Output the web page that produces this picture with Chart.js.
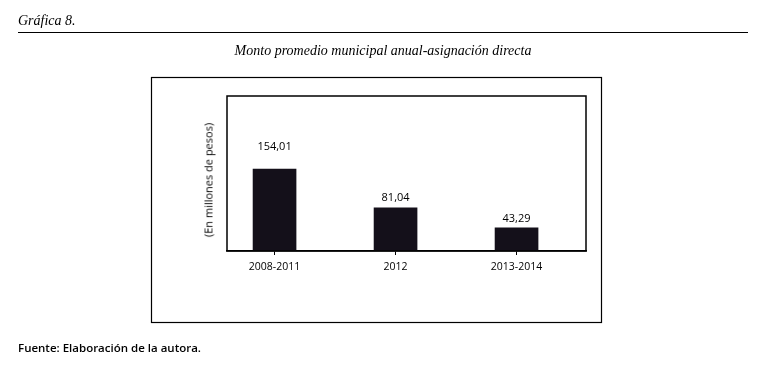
<!DOCTYPE html>
<html><head><meta charset="utf-8">
<script src="https://cdn.jsdelivr.net/npm/chart.js@4"></script>
<style>
html,body{margin:0;padding:0;background:#fff;}
body{width:761px;height:373px;position:relative;overflow:hidden;}
#c{position:absolute;left:0;top:0;}
.t{position:absolute;white-space:nowrap;color:#000;}
#g{left:18px;top:13px;font:italic 14px "Liberation Serif",serif;}
#hr{position:absolute;left:18px;top:32px;width:730px;height:0;border-top:1.5px solid #000;}
#title{left:0;width:766px;text-align:center;top:43px;font:italic 14px "Liberation Serif",serif;}
#ytitle{left:208px;top:180px;font:11px "Open Sans",sans-serif;transform:translate(-50%,-50%) rotate(-90deg);}
#src{left:18px;top:340px;font:600 11.5px "Open Sans",sans-serif;}
</style></head>
<body>
<canvas id="c" width="761" height="373"></canvas>
<div class="t" id="g">Gráfica 8.</div>
<div id="hr"></div>
<div class="t" id="title">Monto promedio municipal anual-asignación directa</div>
<div class="t" id="ytitle">(En millones de pesos)</div>
<div class="t" id="src">Fuente: Elaboración de la autora.</div>
<script>
const categories = ['2008-2011', '2012', '2013-2014'];
const values = [154.01, 81.04, 43.29];
const valueLabels = ['154,01', '81,04', '43,29'];
const labelOffsets = [22, 10, 9];

const points = categories.map((c, i) => ({ x: i, y: values[i] }));

const frame = {
  id: 'frame',
  beforeDraw(chart) {
    const ctx = chart.ctx;
    ctx.save();
    ctx.fillStyle = '#fff';
    ctx.fillRect(0, 0, chart.width, chart.height);
    ctx.strokeStyle = '#000';
    ctx.lineWidth = 1.2;
    ctx.strokeRect(151.5, 77.5, 450, 245);
    ctx.restore();
  },
  afterDraw(chart) {
    const ctx = chart.ctx, a = chart.chartArea;
    ctx.save();
    ctx.strokeStyle = '#000';
    ctx.lineWidth = 1.5;
    ctx.strokeRect(a.left, a.top, a.right - a.left, a.bottom - a.top);
    const meta = chart.getDatasetMeta(0);
    ctx.fillStyle = '#000';
    ctx.font = '11px "Open Sans", sans-serif';
    ctx.textAlign = 'center';
    ctx.textBaseline = 'middle';
    meta.data.forEach((el, i) => {
      ctx.fillText(valueLabels[i], el.x, el.y - labelOffsets[i]);
    });
    ctx.restore();
  }
};

new Chart(document.getElementById('c'), {
  type: 'bar',
  data: {
    datasets: [{
      data: points,
      backgroundColor: '#14101a',
      borderWidth: 0,
      barThickness: 43
    }]
  },
  options: {
    responsive: false,
    animation: false,
    events: [],
    layout: { padding: { left: 227, right: 175, top: 96, bottom: 92 } },
    plugins: { legend: { display: false }, tooltip: { enabled: false } },
    scales: {
      x: {
        type: 'linear',
        offset: false,
        min: -0.393,
        max: 2.574,
        afterFit(axis) { axis.height = 30; },
        afterBuildTicks(axis) { axis.ticks = categories.map((c, i) => ({ value: i })); },
        grid: { display: true, offset: false, drawOnChartArea: false, drawTicks: true, tickLength: 4, color: '#000', lineWidth: 1 },
        border: { display: true, color: '#000', width: 1.5 },
        ticks: {
          color: '#000', font: { family: 'Open Sans', size: 10.5 }, padding: 6, maxRotation: 0,
          autoSkip: false,
          callback: (v) => categories[Math.round(v)]
        }
      },
      y: {
        display: false,
        min: 0,
        max: 291
      }
    }
  },
  plugins: [frame]
});
</script>
</body></html>
